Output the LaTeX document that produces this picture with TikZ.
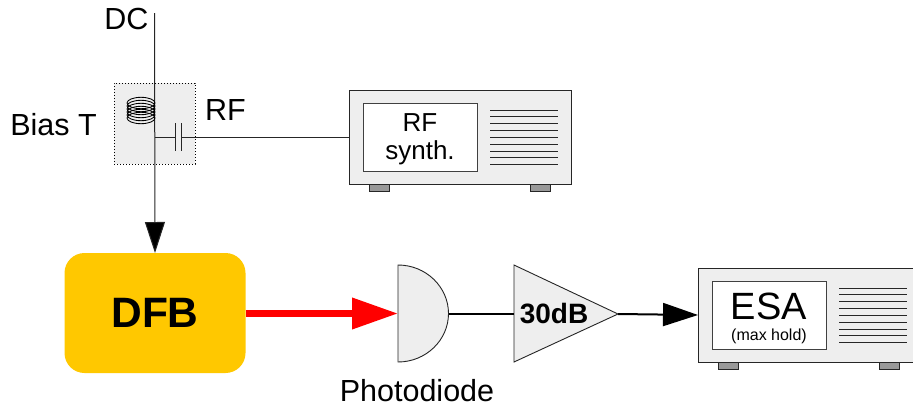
\documentclass[tikz,border=0pt]{standalone}
\usepackage{fontspec}
\setmainfont{Liberation Sans}
\usetikzlibrary{arrows.meta}
\definecolor{panel}{HTML}{EEEEEE}
\definecolor{foot}{HTML}{999999}
\definecolor{dfbc}{HTML}{FFC800}
\newcommand{\fs}[1]{\fontsize{#1}{#1}\selectfont}
\tikzset{
  x=1pt,y=-1pt,
  thin line/.style={line width=1pt,draw=black!85},
  box/.style={draw=black!85,line width=1pt,fill=panel,inner sep=0pt,outer sep=0pt,rectangle},
  screen/.style={draw=black!75,line width=1pt,fill=white,inner sep=0pt,outer sep=0pt,rectangle,minimum width=114pt,minimum height=68pt},
  footbox/.style={draw=black!85,line width=0.8pt,fill=foot,inner sep=0pt,outer sep=0pt,rectangle,minimum width=20pt,minimum height=7pt},
  slat/.style={line width=1pt,draw=black!85},
  lbl/.style={inner sep=0pt,outer sep=0pt,font=\fs{30.5}},
  sig/.style={line width=2pt,draw=black},
}
\begin{document}
\begin{tikzpicture}
\path[use as bounding box,clip] (0,0) rectangle (913,407);
% Bias T
\node[box,dotted,draw=black,minimum width=81pt,minimum height=81pt] (bias) at (154.5,123.5) {};
\coordinate (dctop) at (154.5,13);
\coordinate (rfj) at (154.5,137);
\coordinate (capl) at (175,137);
\coordinate (capr) at (181,137);
% DFB
\node[draw=none,fill=dfbc,rounded corners=20pt,minimum width=181pt,minimum height=120pt,inner sep=0pt,outer sep=0pt,font=\fs{42.5}\bfseries] (dfb) at (155,313) {DFB};
% DC line and arrow
\draw[thin line,-{Triangle[length=31pt,width=20pt,fill=black]}] (dctop) -- (dfb.north);
% coil
\foreach \yy in {103,106,109,112,115,118}
  \draw[line width=0.85pt,draw=black] (141,\yy) ellipse [x radius=14,y radius=5.7];
% capacitor
\draw[line width=1pt,draw=black!85] (capl)++(0,-14) -- ++(0,28);
\draw[line width=1pt,draw=black!85] (capr)++(0,-14) -- ++(0,28);
% RF synth instrument
\node[box,minimum width=222pt,minimum height=94pt] (synth) at (460,137) {};
\node[screen] (synthscreen) at (420,137) {};
\node[inner sep=0pt,font=\fs{26}] (synthl1) at (420,122.5) {RF};
\node[inner sep=0pt,font=\fs{26}] (synthl2) at (420,153) {synth.};
\foreach \i in {0,...,8}
  \draw[slat] (490,{110+\i*6.85}) -- (558,{110+\i*6.85});
\node[footbox] (sf1) at (379.5,187.5) {};
\node[footbox] (sf2) at (540.5,187.5) {};
% RF connection
\draw[thin line] (rfj) -- (capl);
\draw[thin line] (capr) -- (synth.west |- capr);
% Photodiode
\coordinate (pdt) at (398,265);
\coordinate (pdb) at (398,362);
\coordinate (pdm) at (398,313.5);
\coordinate (pde) at (448.5,313.5);
\draw[draw=black!85,line width=0.9pt,fill=panel] (pdt) .. controls (426,265) and (448.5,287) .. (pde) .. controls (448.5,340) and (426,362) .. (pdb) -- cycle;
% red arrow
\draw[line width=7pt,draw=red,-{Triangle[length=46pt,width=30pt,fill=red]}] (dfb.east |- pdm) -- (pdm);
% amplifier
\coordinate (ampi) at (514,313.5);
\coordinate (ampo) at (618,314);
\draw[draw=black!85,line width=0.9pt,fill=panel] (514,265) -- (ampo) -- (514,362) -- cycle;
\node[inner sep=0pt,font=\fs{28}\bfseries] (amplbl) at (554,314) {30dB};
\draw[sig] (pde) -- (ampi);
% ESA instrument
\node[box,minimum width=222pt,minimum height=94pt] (esa) at (809,315) {};
\node[screen] (esascreen) at (769,315) {};
\node[inner sep=0pt,font=\fs{38}] (esalbl) at (769,306) {ESA};
\node[inner sep=0pt,font=\fs{16}] (esasub) at (769,336) {(max hold)};
\foreach \i in {0,...,8}
  \draw[slat] (839,{288+\i*6.85}) -- (907,{288+\i*6.85});
\node[footbox] (ef1) at (728,365.5) {};
\node[footbox] (ef2) at (889.5,365.5) {};
\draw[sig,-{Triangle[length=35pt,width=23pt,fill=black]}] (ampo) -- (esa.west);
% labels
\node[lbl] (dc) at (126.5,19) {DC};
\node[lbl] (rf) at (225.5,110) {RF};
\node[lbl] (biast) at (53.5,125) {Bias T};
\node[lbl] (pdl) at (417,391) {Photodiode};
\end{tikzpicture}
\end{document}
